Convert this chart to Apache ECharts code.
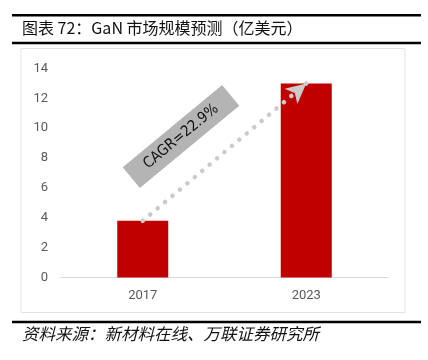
<!DOCTYPE html>
<html><head><meta charset="utf-8">
<script src="https://cdn.jsdelivr.net/npm/echarts@6/dist/echarts.min.js"></script>
<style>html,body{margin:0;padding:0;background:#fff}#c{width:428px;height:360px}</style>
</head><body><div id="c"></div>
<script>
var categories = ['2017', '2023'];
var marketSize = [3.8, 13.0];
var yTicks = [0, 2, 4, 6, 8, 10, 12, 14];
var titleText = '图表 72：GaN 市场规模预测（亿美元）';
var sourceText = '资料来源：新材料在线、万联证券研究所';
var cagrText = 'CAGR=22.9%';

var chart = echarts.init(document.getElementById('c'), null, {renderer: 'canvas'});
var ang = 39.6 * Math.PI / 180;
chart.setOption({
  animation: false,
  backgroundColor: '#fff',
  grid: {left: 61, right: 40, top: 68.5, bottom: 82.5, containLabel: false},
  xAxis: {
    type: 'category', data: categories,
    axisLine: {lineStyle: {color: '#d9d9d9', width: 1}},
    axisTick: {show: false},
    axisLabel: {color: '#595959', fontSize: 13, fontFamily: 'Roboto', margin: 12}
  },
  yAxis: {
    type: 'value', min: yTicks[0], max: yTicks[yTicks.length - 1], interval: 2,
    axisLine: {show: false}, axisTick: {show: false},
    splitLine: {show: false},
    axisLabel: {color: '#595959', fontSize: 13, fontFamily: 'Roboto', margin: 13}
  },
  series: [{
    type: 'bar', data: marketSize, barWidth: 51,
    itemStyle: {color: '#c00000'},
    z: 2,
    markLine: {
      silent: true, z: 5,
      symbol: ['none', 'arrow'], symbolSize: [15, 20],
      label: {show: false},
      lineStyle: {color: '#cbcbcb', width: 4.5, type: [0.1, 9.6], cap: 'round', opacity: 1},
      itemStyle: {color: '#cbcbcb'},
      emphasis: {disabled: true},
      data: [[{coord: [categories[0], marketSize[0]]}, {coord: [categories[1], marketSize[1]]}]]
    }
  }],
  graphic: [
    {type: 'rect', shape: {x: 12, y: 14, width: 409, height: 2.5}, style: {fill: '#000'}},
    {type: 'rect', shape: {x: 12, y: 41.7, width: 409, height: 2.5}, style: {fill: '#000'}},
    {type: 'rect', shape: {x: 12, y: 320.7, width: 409, height: 2.5}, style: {fill: '#000'}},
    {type: 'rect', shape: {x: 21, y: 48.5, width: 384, height: 264}, style: {fill: 'none', stroke: '#e3e3e3', lineWidth: 1}},
    {type: 'text', left: 22, top: 20, style: {text: titleText, font: '400 16px "Noto Sans CJK SC"', fill: '#111'}},
    {type: 'text', left: 22, top: 325, style: {text: sourceText, font: 'italic 16.5px "Noto Sans CJK SC"', fill: '#111'}},
    {type: 'group', x: 181, y: 136.5, rotation: ang, z: 10, children: [
      {type: 'rect', shape: {x: -64.5, y: -13.4, width: 129, height: 26.8}, style: {fill: '#b4b4b4'}},
      {type: 'text', x: 0, y: 0, style: {text: cagrText, font: '15px "DejaVu Sans Condensed"', fill: '#111', align: 'center', verticalAlign: 'middle'}}
    ]}
  ]
});
</script></body></html>
